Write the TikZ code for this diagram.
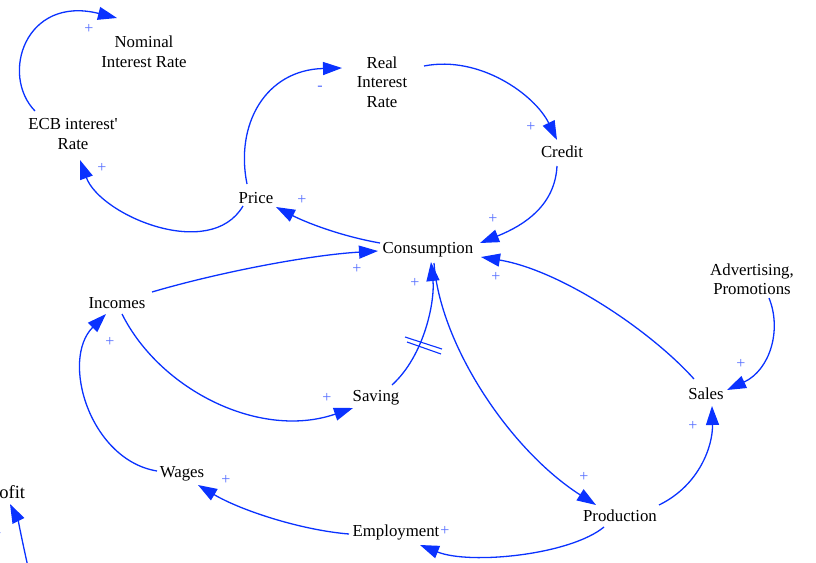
\documentclass[tikz,border=0pt]{standalone}
\usepackage{fontspec}
\setmainfont{Liberation Serif}[Ligatures=TeXOff]
\usetikzlibrary{arrows.meta}
\definecolor{linkblue}{RGB}{10,50,255}
\definecolor{signblue}{RGB}{85,110,255}
\begin{document}
\begin{tikzpicture}[x=1pt,y=-1pt,
  var/.style={align=center,inner sep=0pt,font=\fontsize{16.8}{19.5}\selectfont},
  link/.style={draw=linkblue,line width=1.3pt,-{Triangle[length=19pt,width=13pt]}},
  sign/.style={text=signblue,inner sep=0pt,font=\fontsize{16}{16}\selectfont},
  delay/.style={draw=linkblue,line width=1.1pt}]
\useasboundingbox (0,0) rectangle (816,562);
% variables
\node[var] (nom) at (144,52) {Nominal\\Interest Rate};
\node[var] (ecb) at (73,134) {ECB interest'\\Rate};
\node[var] (real) at (382,82) {Real\\Interest\\Rate};
\node[var] (credit) at (562,152) {Credit};
\node[var] (price) at (256,198) {Price};
\node[var] (cons) at (428,250) {Consumption};
\node[var] (inc) at (117,303) {Incomes};
\node[var] (adv) at (752,279) {Advertising,\\Promotions};
\node[var] (sav) at (376,398) {Saving};
\node[var] (sales) at (706,394) {Sales};
\node[var] (wages) at (182,474) {Wages};
\node[var] (emp) at (396,532) {Employment};
\node[var] (prod) at (620,516) {Production};
\node[var,font=\fontsize{18.5}{21}\selectfont] (profit) at (4,492) {Profit};
% connectors
\draw[link] ([shift={(-38,-23)}]ecb.center) .. controls (0,75) and (25,-5) .. ([shift={(-27,-34)}]nom.center);
\draw[link] ([shift={(-13,8)}]price.center) .. controls (210,262) and (100,215) .. ([shift={(7,26)}]ecb.center);
\draw[link] ([shift={(-9,-14)}]price.center) .. controls (235,125) and (265,70) .. ([shift={(-40,-14)}]real.center);
\draw[link] ([shift={(42,-16)}]real.center) .. controls (480,55) and (535,95) .. ([shift={(-5,-12)}]credit.center);
\draw[link] ([shift={(-5,14)}]credit.center) .. controls (555,205) and (525,225) .. ([shift={(52,-7)}]cons.center);
\draw[link] ([shift={(-48,-7)}]cons.center) .. controls (340,236) and (305,222) .. ([shift={(20,9)}]price.center);
\draw[link] ([shift={(35,-11)}]inc.center) .. controls (220,272) and (310,255) .. ([shift={(-50,1)}]cons.center);
\draw[link] ([shift={(5,11)}]inc.center) .. controls (160,390) and (260,440) .. ([shift={(-23,10)}]sav.center);
\draw[link] ([shift={(16,-13)}]sav.center) .. controls (425,355) and (435,300) .. ([shift={(3,12)}]cons.center);
\draw[link] ([shift={(6,13)}]cons.center) .. controls (440,345) and (510,450) .. ([shift={(-24,-11)}]prod.center);
\draw[link] ([shift={(-12,-15)}]sales.center) .. controls (650,330) and (560,270) .. ([shift={(53,7)}]cons.center);
\draw[link] ([shift={(17,19)}]adv.center) .. controls (782,330) and (770,370) .. ([shift={(21,-4)}]sales.center);
\draw[link] ([shift={(39,-11)}]prod.center) .. controls (700,485) and (713,445) .. ([shift={(6,12)}]sales.center);
\draw[link] ([shift={(-16,11)}]prod.center) .. controls (570,555) and (470,565) .. ([shift={(24,13)}]emp.center);
\draw[link] ([shift={(-47,2)}]emp.center) .. controls (300,530) and (240,510) .. ([shift={(16,11)}]wages.center);
\draw[link] ([shift={(-25,-3)}]wages.center) .. controls (90,460) and (60,360) .. ([shift={(-11,11)}]inc.center);
\draw[link] ([shift={(24,75)}]profit.center) .. controls (22,540) and (18,520) .. ([shift={(6,12)}]profit.center);
% delay mark
\draw[delay] (405,337) -- (442,349);
\draw[delay] (407,342) -- (441,354);
% polarity signs
\node[sign] at (89,29) {+};
\node[sign] at (102,168) {+};
\node[sign] at (320,88) {-};
\node[sign] at (302,200) {+};
\node[sign] at (531,127) {+};
\node[sign] at (493,219) {+};
\node[sign] at (357,269) {+};
\node[sign] at (415,283) {+};
\node[sign] at (496,277) {+};
\node[sign] at (110,342) {+};
\node[sign] at (327,398) {+};
\node[sign] at (741,364) {+};
\node[sign] at (693,426) {+};
\node[sign] at (584,477) {+};
\node[sign] at (226,480) {+};
\node[sign] at (445,531) {+};
\node[sign] at (-3,534) {+};
\end{tikzpicture}
\end{document}
